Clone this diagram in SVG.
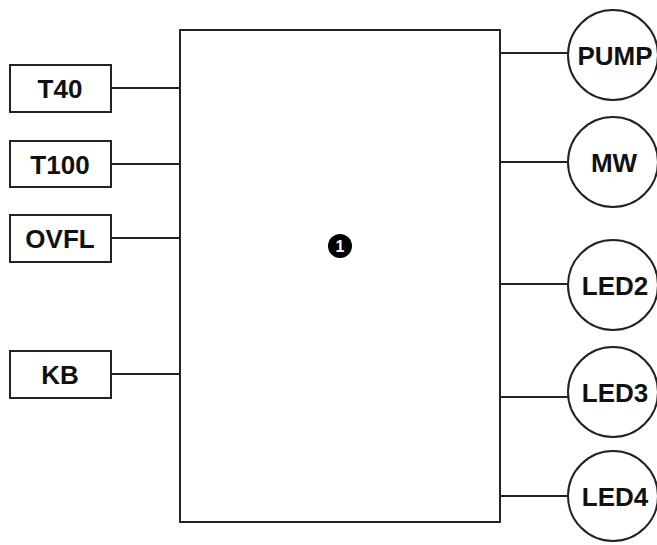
<svg xmlns="http://www.w3.org/2000/svg" width="657" height="545" viewBox="0 0 657 545">
<style>
.box{fill:#fff;stroke:#222;stroke-width:2}
.lbl{font-family:"Liberation Sans",Arial,sans-serif;font-weight:bold;font-size:26px;fill:#111;text-anchor:middle}
.wire{stroke:#222;stroke-width:2;fill:none}
</style>
<rect width="657" height="545" fill="#fff"/>
<g id="connectors">
<line class="wire" x1="111" y1="88" x2="180" y2="88"/>
<line class="wire" x1="111" y1="164" x2="180" y2="164"/>
<line class="wire" x1="111" y1="238" x2="180" y2="238"/>
<line class="wire" x1="111" y1="374" x2="180" y2="374"/>
<line class="wire" x1="500" y1="53" x2="568" y2="53"/>
<line class="wire" x1="500" y1="162" x2="568" y2="162"/>
<line class="wire" x1="500" y1="284" x2="568" y2="284"/>
<line class="wire" x1="500" y1="397" x2="568" y2="397"/>
<line class="wire" x1="500" y1="496" x2="568" y2="496"/>
</g>
<g id="main">
<rect class="box" x="180" y="30" width="320" height="492"/>
<circle cx="340" cy="246" r="12" fill="#000"/>
<text x="340" y="252" font-family="Liberation Sans,Arial,sans-serif" font-weight="bold" font-size="16" fill="#fff" text-anchor="middle">1</text>
</g>
<g id="T40"><rect class="box" x="10" y="65" width="101" height="47"/><text class="lbl" x="60" y="98">T40</text></g>
<g id="T100"><rect class="box" x="10" y="141" width="101" height="46"/><text class="lbl" x="60" y="174">T100</text></g>
<g id="OVFL"><rect class="box" x="10" y="215" width="101" height="47"/><text class="lbl" x="60" y="248">OVFL</text></g>
<g id="KB"><rect class="box" x="10" y="351" width="101" height="47"/><text class="lbl" x="60" y="384">KB</text></g>
<g id="PUMP"><circle class="box" cx="613" cy="55" r="45"/><text class="lbl" x="615" y="65">PUMP</text></g>
<g id="MW"><circle class="box" cx="613" cy="162" r="45"/><text class="lbl" x="614" y="172">MW</text></g>
<g id="LED2"><circle class="box" cx="613" cy="285" r="45"/><text class="lbl" x="615" y="295">LED2</text></g>
<g id="LED3"><circle class="box" cx="613" cy="392" r="45"/><text class="lbl" x="615" y="402">LED3</text></g>
<g id="LED4"><circle class="box" cx="613" cy="496" r="45"/><text class="lbl" x="615" y="506">LED4</text></g>
</svg>
